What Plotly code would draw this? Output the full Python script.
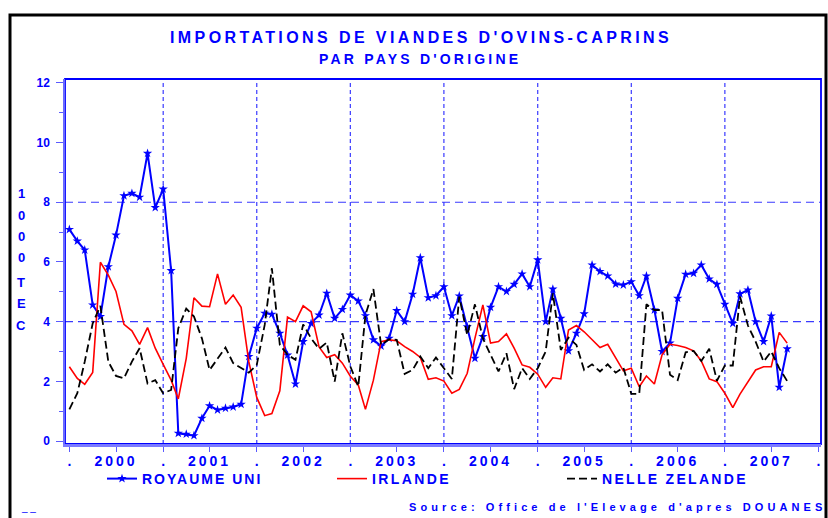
import plotly.graph_objects as go
import pandas as pd

# ---------------- data ----------------
months = pd.date_range("2000-01-01", periods=93, freq="MS")

royaume_uni = [
    7.09, 6.70, 6.40, 4.56, 4.17, 5.84, 6.90, 8.22, 8.30, 8.17, 9.64, 7.82,   # 2000
    8.44, 5.71, 0.26, 0.23, 0.18, 0.76, 1.18, 1.04, 1.10, 1.14, 1.23, 2.83,   # 2001
    3.78, 4.28, 4.25, 3.61, 2.88, 1.91, 3.33, 3.94, 4.22, 4.95, 4.11, 4.41,   # 2002
    4.89, 4.69, 4.20, 3.39, 3.18, 3.44, 4.37, 4.00, 4.92, 6.14, 4.80, 4.87,   # 2003
    5.17, 4.20, 4.86, 3.83, 2.77, 3.50, 4.48, 5.17, 5.01, 5.25, 5.60, 5.17,   # 2004
    6.07, 4.00, 5.09, 4.11, 3.02, 3.61, 4.26, 5.90, 5.68, 5.53, 5.26, 5.23,   # 2005
    5.34, 4.87, 5.53, 4.39, 3.00, 3.28, 4.78, 5.59, 5.62, 5.90, 5.43, 5.25,   # 2006
    4.58, 3.94, 4.93, 5.06, 4.00, 3.33, 4.19, 1.80, 3.09,                     # 2007
]
irlande = [
    2.49, 2.10, 1.90, 2.30, 5.99, 5.56, 5.01, 3.91, 3.69, 3.24, 3.80, 3.11,
    2.57, 2.04, 1.41, 2.77, 4.80, 4.52, 4.50, 5.60, 4.58, 4.89, 4.48, 2.66,
    1.46, 0.85, 0.92, 1.68, 4.15, 4.00, 4.53, 4.33, 3.15, 2.80, 2.89, 2.61,
    2.17, 1.88, 1.06, 2.04, 3.33, 3.39, 3.36, 3.16, 3.00, 2.80, 2.07, 2.12,
    2.01, 1.60, 1.73, 2.27, 3.44, 4.56, 3.28, 3.33, 3.59, 3.11, 2.55, 2.47,
    2.24, 1.80, 2.12, 2.08, 3.72, 3.87, 3.66, 3.39, 3.13, 3.24, 2.80, 2.35,
    2.44, 1.82, 2.18, 1.91, 2.89, 3.24, 3.20, 3.13, 3.02, 2.68, 2.08, 1.99,
    1.60, 1.12, 1.57, 1.99, 2.38, 2.49, 2.49, 3.64, 3.28,
]
nelle_zelande = [
    1.06, 1.60, 2.66, 3.94, 4.53, 2.66, 2.18, 2.10, 2.66, 3.11, 1.93, 2.04,
    1.60, 1.71, 3.78, 4.44, 4.17, 3.44, 2.38, 2.77, 3.13, 2.61, 2.44, 2.29,
    2.55, 3.89, 5.79, 3.22, 2.89, 2.72, 3.91, 3.44, 3.09, 3.30, 1.99, 3.61,
    2.50, 1.83, 4.22, 5.09, 3.22, 3.41, 3.39, 2.25, 2.38, 2.83, 2.44, 2.80,
    2.44, 2.08, 4.84, 3.55, 4.58, 3.44, 2.89, 2.33, 2.94, 1.74, 2.44, 2.08,
    2.44, 3.00, 4.95, 3.05, 3.46, 3.22, 2.38, 2.57, 2.33, 2.57, 2.29, 2.46,
    1.58, 1.58, 4.58, 4.39, 4.39, 2.22, 2.04, 2.97, 3.02, 2.68, 3.09, 2.02,
    2.53, 2.53, 4.84, 3.87, 3.33, 2.66, 3.00, 2.44, 2.01,
]

years = [2000, 2001, 2002, 2003, 2004, 2005, 2006, 2007]
y_ticks = [0, 2, 4, 6, 8, 10, 12]
y_grid = [4, 8]
y_label_chars = ["1", "0", "0", "0", "T", "E", "C"]

# ---------------- style ----------------
BLUE = "#0000ff"
FONT = "Liberation Sans, Arial, sans-serif"
W, H = 828, 518
ML, MR, MT, MB = 65, 7, 79, 74
PW, PH = W - ML - MR, H - MT - MB


def px_x(px):
    return (px - ML) / PW


def px_y(py):
    return (H - MB - py) / PH


def spaced(text, sp):
    return f"<span style='letter-spacing:{sp}px'>{text}</span>"


fig = go.Figure()
fig.add_trace(go.Scatter(
    x=months, y=royaume_uni, mode="lines+markers", name=spaced("ROYAUME UNI", 2),
    line=dict(color=BLUE, width=2), marker=dict(symbol="star", size=7, color=BLUE),
))
fig.add_trace(go.Scatter(
    x=months, y=irlande, mode="lines", name=spaced("IRLANDE", 2.4),
    line=dict(color="#ff0000", width=1.6),
))
fig.add_trace(go.Scatter(
    x=months, y=nelle_zelande, mode="lines", name=spaced("NELLE ZELANDE", 2.3),
    line=dict(color="#000000", width=1.8, dash="8px,4px"),
))

# x ticks: "." at year boundaries, year label at mid-year
tickvals, ticktext = [], []
for y in years:
    tickvals.append(pd.Timestamp(f"{y}-01-01"))
    ticktext.append(".")
    tickvals.append(pd.Timestamp(f"{y}-07-01"))
    ticktext.append(spaced(str(y), 3))
tickvals.append(pd.Timestamp(f"{years[-1] + 1}-01-01"))
ticktext.append(".")

shapes = []
for y in years[1:]:
    shapes.append(dict(type="line", xref="x", yref="paper",
                       x0=pd.Timestamp(f"{y}-01-01"), x1=pd.Timestamp(f"{y}-01-01"),
                       y0=0, y1=1, line=dict(color="#3a3aff", width=1.2, dash="4px,3px"),
                       layer="below"))
for g in y_grid:
    shapes.append(dict(type="line", xref="paper", yref="y", x0=0, x1=1, y0=g, y1=g,
                       line=dict(color="#3a3aff", width=1.2, dash="8px,5px"), layer="below"))
# plot frame
shapes.append(dict(type="rect", xref="paper", yref="paper", x0=0, x1=1, y0=0, y1=1,
                   line=dict(color=BLUE, width=1.8), layer="below"))
# outer black frame
shapes.append(dict(type="rect", xref="paper", yref="paper",
                   x0=px_x(10), x1=px_x(826), y0=px_y(530), y1=px_y(15),
                   line=dict(color="#000000", width=3)))

annotations = [
    dict(text=spaced("IMPORTATIONS DE VIANDES D'OVINS-CAPRINS", 3.4), x=px_x(421), y=px_y(37),
         font=dict(size=16, color=BLUE, family=FONT, weight="bold")),
    dict(text=spaced("PAR PAYS D'ORIGINE", 3.2), x=px_x(420), y=px_y(59),
         font=dict(size=14, color=BLUE, family=FONT, weight="bold")),
    dict(text=spaced("Source: Office de l'Elevage d'apres DOUANES", 4.1),
         x=px_x(829), y=px_y(507), xanchor="right",
         font=dict(size=11, color=BLUE, family=FONT, weight="bold")),
    dict(text="_ _", x=px_x(28), y=px_y(507),
         font=dict(size=10, color=BLUE, family=FONT)),
]
label_y = [193, 215, 236, 257, 282, 303, 325]
for ch, ly in zip(y_label_chars, label_y):
    annotations.append(dict(text=ch, x=px_x(21), y=px_y(ly),
                            font=dict(size=13, color=BLUE, family=FONT, weight="bold")))
for a in annotations:
    a.update(xref="paper", yref="paper", showarrow=False)
    a.setdefault("xanchor", "center")
    a.setdefault("yanchor", "middle")

fig.update_layout(
    width=W, height=H,
    margin=dict(l=ML, r=MR, t=MT, b=MB, autoexpand=False),
    paper_bgcolor="white", plot_bgcolor="white",
    font=dict(family=FONT, color=BLUE),
    showlegend=True,
    legend=dict(orientation="h", x=px_x(102), y=px_y(479), xanchor="left", yanchor="middle",
                font=dict(size=14, color=BLUE, family=FONT, weight="bold"),
                entrywidth=185, entrywidthmode="pixels", bgcolor="rgba(0,0,0,0)"),
    xaxis=dict(
        type="date", range=["1999-12-15", "2008-01-11"],
        tickmode="array", tickvals=tickvals, ticktext=ticktext,
        ticks="outside", ticklen=5, tickcolor="#5a5aff", tickwidth=1.2,
        showline=True, linecolor="#7b7bff", linewidth=3,
        showgrid=False, zeroline=False,
        tickfont=dict(size=14, color=BLUE, family=FONT, weight="bold"),
        ticklabelstandoff=-3,
    ),
    yaxis=dict(
        range=[-0.1, 12.13], tickmode="array", tickvals=y_ticks,
        ticks="outside", ticklen=7, tickcolor="#5a5aff", tickwidth=1.2,
        minor=dict(dtick=1, ticks="outside", ticklen=4, tickcolor="#5a5aff"),
        showline=True, linecolor="#6a6aff", linewidth=1.5,
        showgrid=False, zeroline=False,
        tickfont=dict(size=12, color=BLUE, family=FONT, weight="bold"),
        ticklabelstandoff=4,
    ),
    shapes=shapes,
    annotations=annotations,
)

fig.write_html("out.html", config={"displayModeBar": False},
               post_script="document.body.style.margin='0';document.body.style.overflow='hidden';")
